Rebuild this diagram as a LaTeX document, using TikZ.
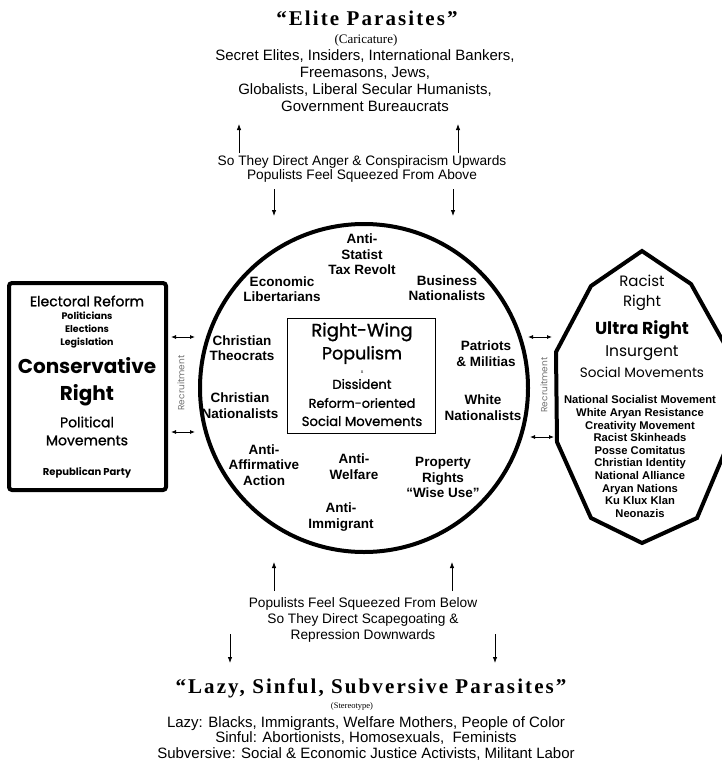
\documentclass[tikz,border=0pt]{standalone}
\usepackage{fontspec}
\usetikzlibrary{arrows.meta}
\setmainfont{Liberation Sans}
\newfontfamily\geofont{Poppins}
\newfontfamily\geomed[FakeBold=1.2]{Poppins}
\newfontfamily\titlefont[LetterSpace=10]{Liberation Serif}
\newfontfamily\smallserif{Liberation Serif}
\newcommand{\fsz}[2]{\fontsize{#1}{#2}\selectfont}

\tikzset{
  circlabel/.style={align=center, inner sep=0pt, font=\fsz{13.5}{15.5}\bfseries},
  bodytext/.style={align=center, inner sep=0pt, font=\fsz{15}{16.8}},
  squeeze/.style={align=center, inner sep=0pt, font=\fsz{13.7}{14.3}},
  bigtitle/.style={inner sep=0pt, font=\titlefont\bfseries\fsz{21}{23}},
  geo/.style={align=center, inner sep=0pt, font=\geofont\fsz{#1}{#1}},
  geom/.style={align=center, inner sep=0pt, font=\geomed\fsz{#1}{#1}},
  geob/.style={align=center, inner sep=0pt, font=\geofont\bfseries\fsz{#1}{#1}},
  recruit/.style={inner sep=0pt, rotate=90, text=black!55, font=\geofont\fsz{9}{9}},
  vert/.style={-{Latex[length=6pt,width=4.5pt]}, line width=0.8pt},
  both/.style={{Latex[length=5pt,width=4pt]}-{Latex[length=5pt,width=4pt]}, line width=0.8pt},
  heavy/.style={line width=4pt}
}

\begin{document}
\begin{tikzpicture}[x=1pt,y=-1pt]
\useasboundingbox (0,0) rectangle (721,771);

%%%%%%%%%%%%%-------------arriba
\node[bigtitle] (elite) at (367,18) {“Elite Parasites”};
\node[inner sep=0pt, font=\smallserif\fsz{13}{14}] (caric) at (366,40) {(Caricature)};
\node[bodytext] (elitelist) at (365,80.5) {Secret Elites, Insiders, International Bankers,\\Freemasons, Jews,\\Globalists, Liberal Secular Humanists,\\Government Bureaucrats};

\coordinate (upA0) at (239,153); \coordinate (upA1) at (239,124);
\coordinate (upB0) at (458,153); \coordinate (upB1) at (458,124);
\draw[vert] (upA0)--(upA1);
\draw[vert] (upB0)--(upB1);
\node[squeeze] (above) at (362,169) {So They Direct Anger \& Conspiracism Upwards\\Populists Feel Squeezed From Above};
\coordinate (dnA0) at (274,189); \coordinate (dnA1) at (274,216);
\coordinate (dnB0) at (453,189); \coordinate (dnB1) at (453,216);
\draw[vert] (dnA0)--(dnA1);
\draw[vert] (dnB0)--(dnB1);

%%%%%%%%%%%%%-------------circulo
\node[draw, circle, heavy, minimum size=328pt, inner sep=0pt] (populism) at (364,388) {};
\node[draw, line width=1.8pt, minimum width=148pt, minimum height=115pt, inner sep=0pt] (core) at (361.5,376) {};
\node[geom=18] (rw) at (362,332) {Right-Wing};
\node[geom=17.5] (pop) at (362,355) {Populism};
\node[inner sep=0pt, font=\fsz{5}{5}] (xx) at (362,372) {x};
\node[geom=13] (diss) at (362,384) {Dissident};
\node[geom=12.8] (reform) at (362,403) {Reform-oriented};
\node[geom=13.2] (socmov) at (362,421) {Social Movements};

\node[circlabel] (antistat) at (362,254.5) {Anti-\\Statist\\Tax Revolt};
\node[circlabel] (econ) at (282,289) {Economic\\Libertarians};
\node[circlabel] (busnat) at (447,288) {Business\\Nationalists};
\node[circlabel] (theo) at (242,348) {Christian\\Theocrats};
\node[circlabel] (patriots) at (486,353.5) {Patriots\\\& Militias};
\node[circlabel] (chrnat) at (240,405.5) {Christian\\Nationalists};
\node[circlabel] (whitenat) at (483,407.5) {White\\Nationalists};
\node[circlabel] (affirm) at (264,465) {Anti-\\Affirmative\\Action};
\node[circlabel] (welfare) at (354,466.5) {Anti-\\Welfare};
\node[circlabel] (wiseuse) at (443,477.5) {Property\\Rights\\“Wise Use”};
\node[circlabel] (immig) at (341,517) {Anti-\\Immigrant};

%%%%%%%%%%%%%-------------izquierda
\draw[heavy, rounded corners=3pt] (9,283) rectangle (166,490);
\node[geom=14] (electoral) at (87,301) {Electoral Reform};
\node[geob=9.5, font=\geofont\bfseries\fsz{9.5}{13}] (politic) at (87,330) {Politicians\\Elections\\Legislation};
\node[geob=20, font=\geofont\bfseries\fsz{20}{27}] (conserv) at (87,381.5) {Conservative\\Right};
\node[geom=14, font=\geomed\fsz{14}{18}] (polmov) at (87,431) {Political\\Movements};
\node[geob=10] (repub) at (87,473) {Republican Party};

\coordinate (lA0) at (171,337); \coordinate (lA1) at (195,337);
\coordinate (lB0) at (171,432); \coordinate (lB1) at (195,432);
\draw[both] (lA0)--(lA1);
\draw[both] (lB0)--(lB1);
\node[recruit] (recL) at (181,383) {Recruitment};

%%%%%%%%%%%%%-------------derecha
\draw[heavy, line join=miter] (642,251)--(591,286)--(556,352)--(557,442)--(591,518)--(642,543)
   --(697,518)--(729,442)--(729,352)--(691,284)--cycle;
\coordinate (rA0) at (528,337); \coordinate (rA1) at (552,337);
\coordinate (rB0) at (530,437); \coordinate (rB1) at (554,437);
\draw[both] (rA0)--(rA1);
\draw[both] (rB0)--(rB1);
\node[recruit] (recR) at (544,385) {Recruitment};

\node[geo=15, font=\geofont\fsz{15}{20}] (racist) at (642,293) {Racist\\Right};
\node[geob=17.3] (ultra) at (642,330) {Ultra Right};
\node[geo=15.5] (insurg) at (642,353) {Insurgent};
\node[geo=13.6] (socmovR) at (642,372) {Social Movements};
\node[align=center, inner sep=0pt, font=\fsz{11.2}{12.6}\bfseries] (groups) at (640,456.5) {National Socialist Movement\\White Aryan Resistance\\Creativity Movement\\Racist Skinheads\\Posse Comitatus\\Christian Identity\\National Alliance\\Aryan Nations\\Ku Klux Klan\\Neonazis};

%%%%%%%%%%%%%-------------abajo
\coordinate (upC0) at (274,591); \coordinate (upC1) at (274,562);
\coordinate (upD0) at (452,591); \coordinate (upD1) at (452,562);
\draw[vert] (upC0)--(upC1);
\draw[vert] (upD0)--(upD1);
\node[squeeze, font=\fsz{13.7}{16}] (below) at (363,620) {Populists Feel Squeezed From Below\\So They Direct Scapegoating \&\\Repression Downwards};
\coordinate (dnC0) at (230,634); \coordinate (dnC1) at (230,663);
\coordinate (dnD0) at (495,634); \coordinate (dnD1) at (495,663);
\draw[vert] (dnC0)--(dnC1);
\draw[vert] (dnD0)--(dnD1);

\node[bigtitle] (lazy) at (371,688) {“Lazy, Sinful, Subversive Parasites”};
\node[inner sep=0pt, font=\smallserif\fsz{8.5}{10}] (stereo) at (352,706) {(Stereotype)};
\node[bodytext, font=\fsz{15}{15.5}] (lazylist) at (366,738.5) {Lazy: Blacks, Immigrants, Welfare Mothers, People of Color\\Sinful: Abortionists, Homosexuals,~ Feminists\\Subversive: Social \& Economic Justice Activists, Militant Labor};

\end{tikzpicture}
\end{document}
